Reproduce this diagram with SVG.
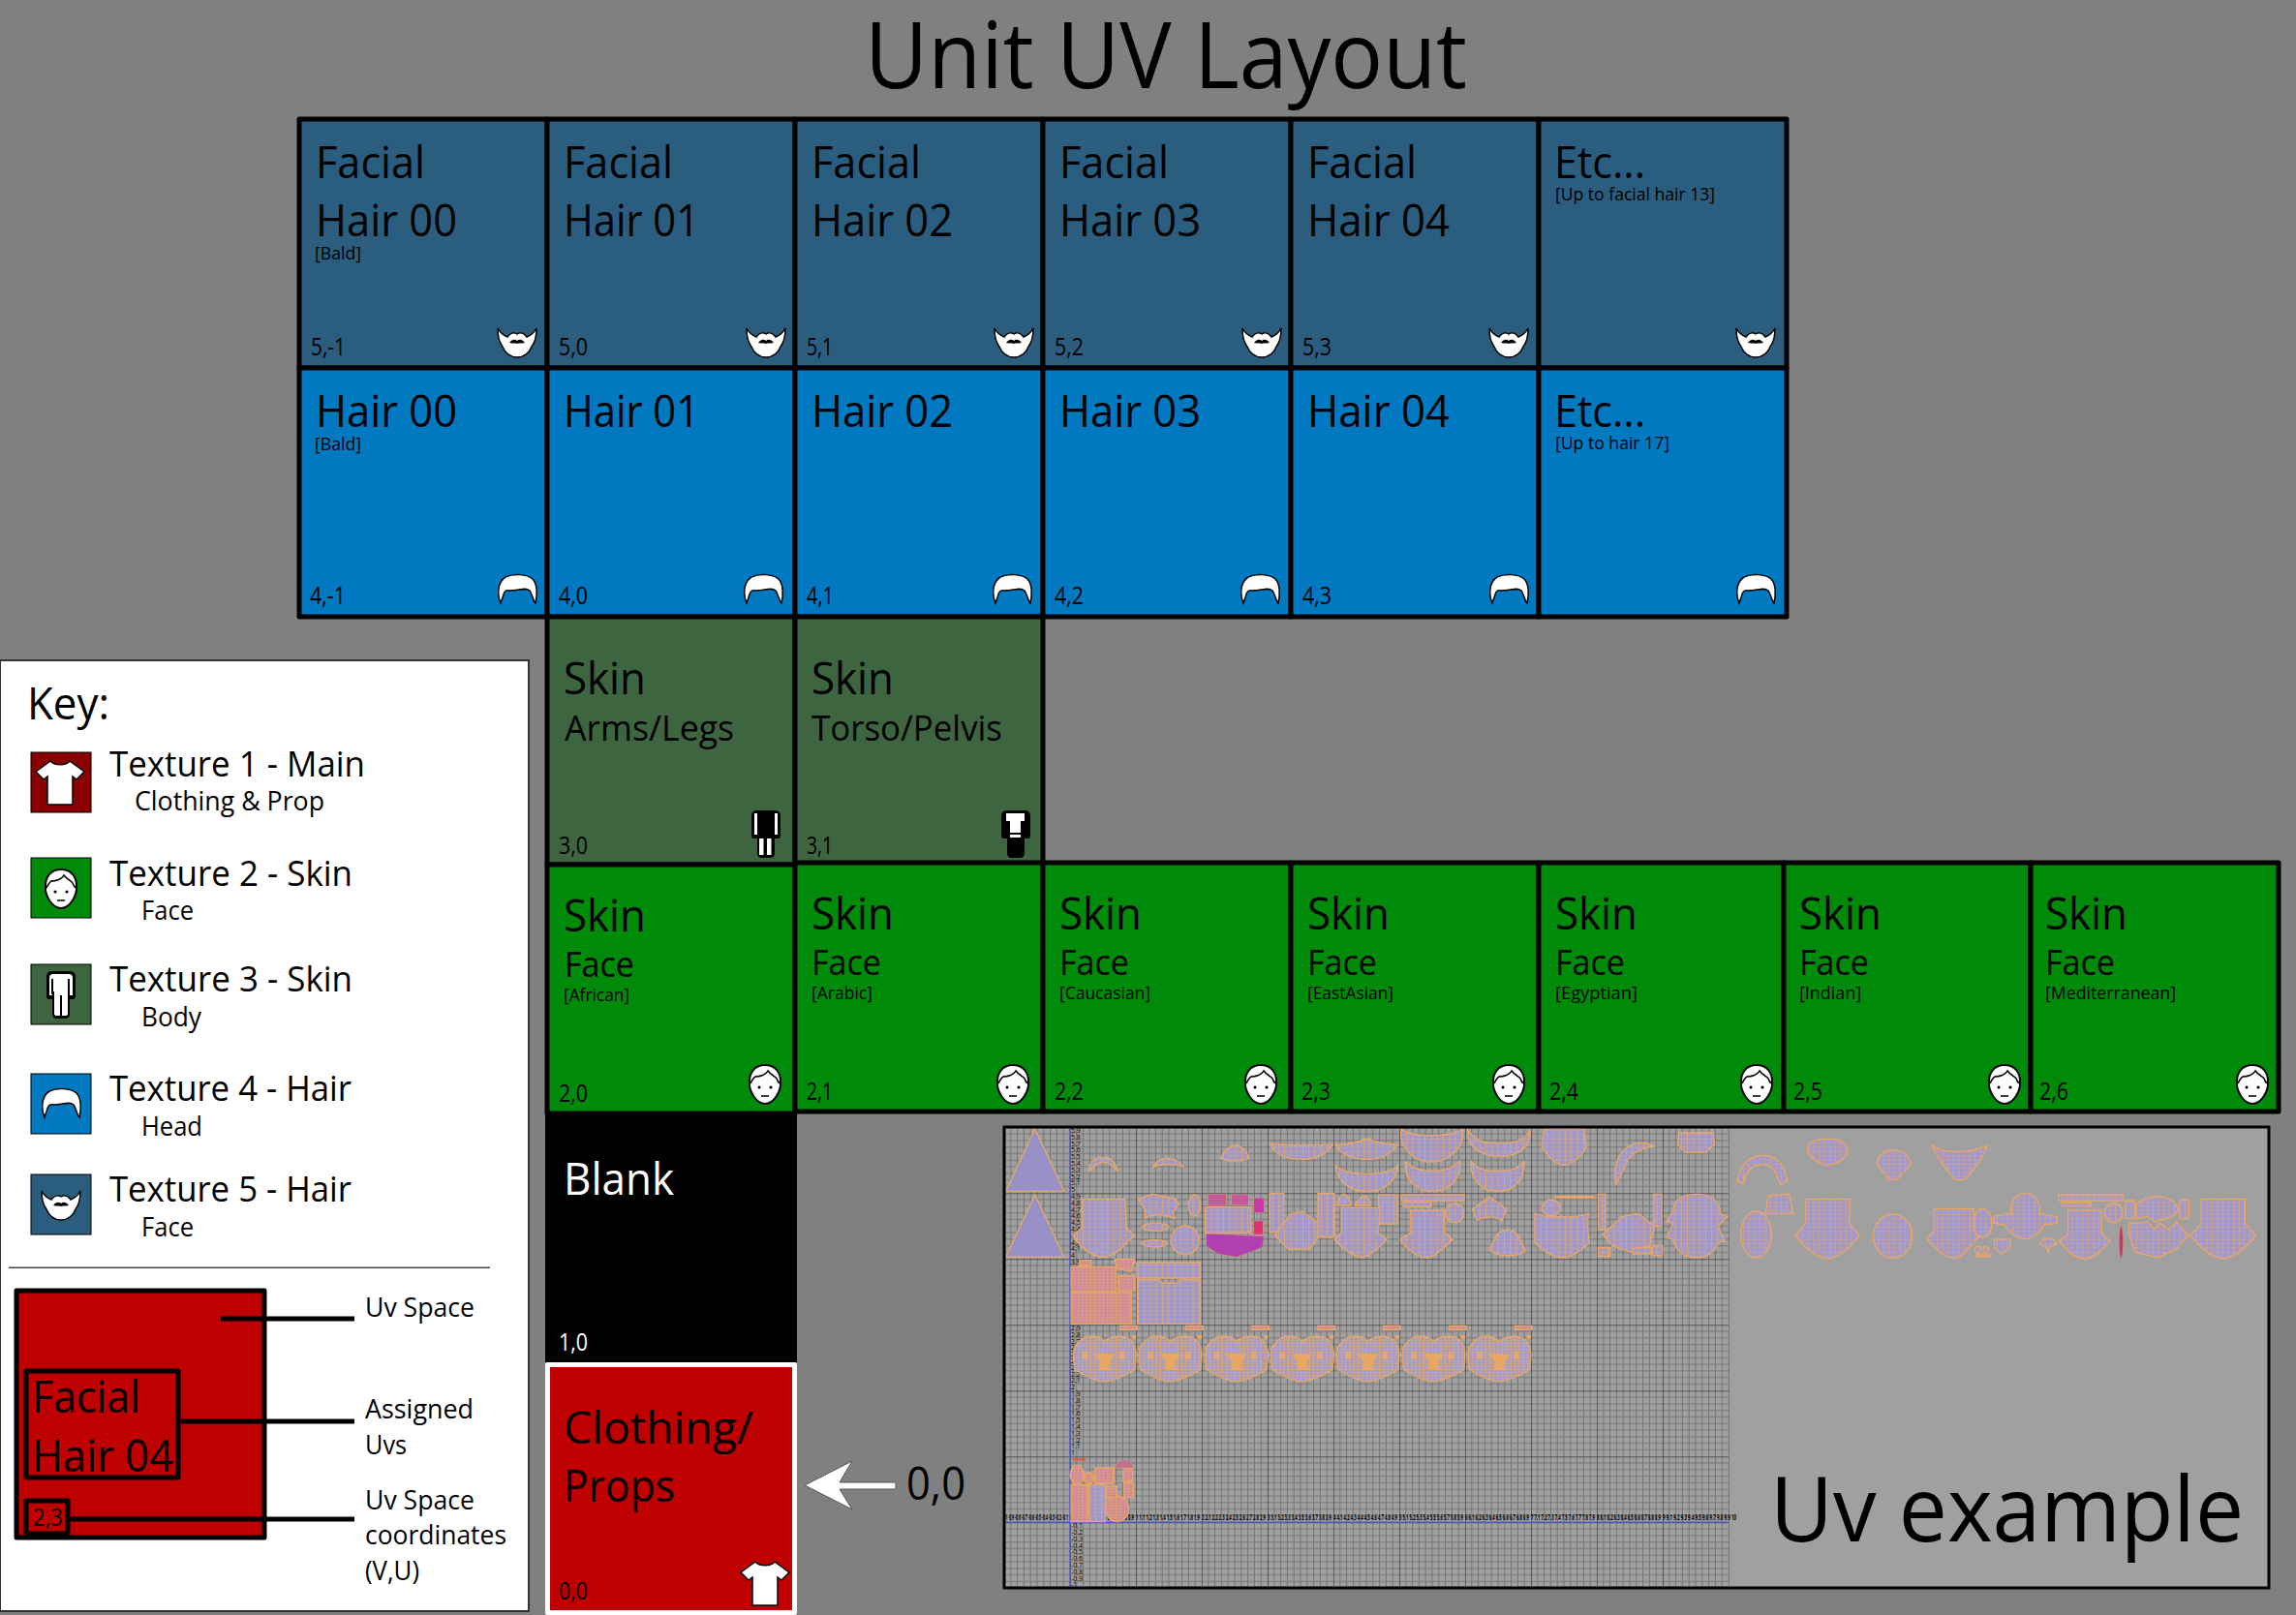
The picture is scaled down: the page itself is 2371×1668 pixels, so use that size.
<svg xmlns="http://www.w3.org/2000/svg" width="2371" height="1668" viewBox="0 0 2371 1668">
<style>
text{font-family:"Open Sans","Liberation Sans",sans-serif;fill:#000}
.c{stroke:#000;stroke-width:5;stroke-linejoin:round}
.fh{fill:#2b5d7e}.hr{fill:#0079c1}.sb{fill:#3d6540}.sf{fill:#008a0a}.rd{fill:#bf0000}
.ti{font-size:46px}.su{font-size:36px}.tg{font-size:18px}.co{font-size:25px}
.k1{font-size:37px}.k2{font-size:28px}.l{font-size:28px}
.ax{font-size:8px;font-weight:700}
.ib{stroke:#000;stroke-width:1.5}
.w{fill:url(#wire);stroke:#e8a765;stroke-width:1.4;vector-effect:non-scaling-stroke}
.f{fill:url(#wiref);stroke:#e8a765;stroke-width:1.4;vector-effect:non-scaling-stroke}
.d{fill:url(#wired);stroke:#e8a765;stroke-width:1.4;vector-effect:non-scaling-stroke}
.p{fill:#9a90c8;stroke:#e8a765;stroke-width:1.4;vector-effect:non-scaling-stroke}
.o{fill:#e8a765}
</style>
<defs>
<pattern id="grid" patternUnits="userSpaceOnUse" x="1105" y="1572.3" width="68" height="68">
<rect width="68" height="68" fill="#a0a0a0"/>
<path d="M6.8 0V68M13.6 0V68M20.4 0V68M27.2 0V68M34 0V68M40.8 0V68M47.6 0V68M54.4 0V68M61.2 0V68M0 6.8H68M0 13.6H68M0 20.4H68M0 27.2H68M0 34H68M0 40.8H68M0 47.6H68M0 54.4H68M0 61.2H68" stroke="#757575" stroke-width="1" fill="none"/>
<path d="M0 0V68M0 0H68" stroke="#3d3d3d" stroke-width="1.4" fill="none"/>
</pattern>
<pattern id="wire" patternUnits="userSpaceOnUse" width="13" height="13">
<rect width="13" height="13" fill="#9f98cc"/><path d="M0 0H13M0 0V13" stroke="#dfa878" stroke-width="3" fill="none"/>
</pattern>
<pattern id="wiref" patternUnits="userSpaceOnUse" width="9" height="9">
<rect width="9" height="9" fill="#a39bc8"/><path d="M0 0H9M0 0V9" stroke="#e2a870" stroke-width="3" fill="none"/>
</pattern>
<pattern id="wired" patternUnits="userSpaceOnUse" width="9" height="9">
<rect width="9" height="9" fill="#cf8a9a"/><path d="M0 0H9M0 0V9" stroke="#e3a26a" stroke-width="3" fill="none"/>
</pattern>
<g id="beard"><path class="ib" fill="#fff" d="M0 0C2 4 5 7 10 9C13 5 17 4 20 6C23 4 27 5 30 9C35 7 38 4 40 0C40 8 39 14 35 19C33 25 27 30 20 30C13 30 7 25 5 19C1 14 0 8 0 0Z"/><path d="M12 15C15 11 18 11 20 13C22 11 25 11 28 15C24 16 22 15 20 16C18 15 16 16 12 15Z"/></g>
<path id="hairi" class="ib" fill="#fff" d="M3 30C-1 20 0 8 8 3C16-1 30 0 36 5C41 10 41 22 39 30C36 27 36 21 33 17C28 13 22 17 12 17C7 16 6 20 5 24Z"/>
<g id="face"><path fill="#fff" stroke="#000" stroke-width="2" d="M17 1C28 1 33 9 33 18C34 28 26 41 17 41C8 41 0 28 1 18C1 9 6 1 17 1Z"/><path d="M2 20C4 16 5 14 7 13C12 13 18 11 20 7C23 11 28 13 29 15C30 17 30 18 32 20M13 33H21" fill="none" stroke="#000" stroke-width="1.6"/><circle cx="11" cy="24" r="1.6"/><circle cx="23" cy="24" r="1.6"/></g>
<path id="shirt" class="ib" fill="#fff" d="M15 0C19 5 31 5 35 0L50 11L42 19L38 16V45H12V16L8 19L0 11Z"/>
<path id="bodyo" d="M0 6Q0 0 6 0H24Q30 0 30 6V26Q30 29 27 29H24V44Q24 49 19 49H11Q6 49 6 44V29H3Q0 29 0 26Z"/>
</defs>
<rect width="2371" height="1668" fill="#808080"/>
<text id="title" x="893" y="91" font-size="95" textLength="622" lengthAdjust="spacingAndGlyphs">Unit UV Layout</text>

<g id="key">
<rect x="0" y="682" width="546" height="982" fill="#fff" stroke="#333" stroke-width="2"/>
<text x="28" y="743" font-size="46" textLength="85" lengthAdjust="spacingAndGlyphs">Key:</text>
<g id="key-t1"><rect x="32" y="777" width="62" height="62" fill="#8a0000" stroke="#000"/><use href="#shirt" x="37" y="786"/><text class="k1" x="113" y="802" textLength="264" lengthAdjust="spacingAndGlyphs">Texture 1 - Main</text><text class="k2" x="139" y="837" textLength="196" lengthAdjust="spacingAndGlyphs">Clothing &amp; Prop</text></g>
<g id="key-t2"><rect x="32" y="886" width="62" height="62" class="sf" stroke="#000"/><use href="#face" x="46" y="897"/><text class="k1" x="113" y="915" textLength="251" lengthAdjust="spacingAndGlyphs">Texture 2 - Skin</text><text class="k2" x="146" y="950" textLength="54" lengthAdjust="spacingAndGlyphs">Face</text></g>
<g id="key-t3"><rect x="32" y="996" width="62" height="62" class="sb" stroke="#000"/><use href="#bodyo" x="48" y="1003"/><path transform="translate(48 1003)" fill="#fff" d="M3 7Q3 3 7 3H23Q27 3 27 7V25H24V21H22V44Q22 46 19 46H11Q8 46 8 44V21H6V25H3Z"/><path d="M54 1011V1027M71 1011V1027M63 1028V1049" stroke="#000" stroke-width="2"/><text class="k1" x="113" y="1024" textLength="251" lengthAdjust="spacingAndGlyphs">Texture 3 - Skin</text><text class="k2" x="146" y="1060" textLength="62" lengthAdjust="spacingAndGlyphs">Body</text></g>
<g id="key-t4"><rect x="32" y="1109" width="62" height="62" class="hr" stroke="#000"/><use href="#hairi" x="43" y="1124"/><text class="k1" x="113" y="1137" textLength="250" lengthAdjust="spacingAndGlyphs">Texture 4 - Hair</text><text class="k2" x="146" y="1173" textLength="63" lengthAdjust="spacingAndGlyphs">Head</text></g>
<g id="key-t5"><rect x="32" y="1213" width="62" height="62" class="fh" stroke="#000"/><use href="#beard" x="43" y="1230"/><text class="k1" x="113" y="1241" textLength="250" lengthAdjust="spacingAndGlyphs">Texture 5 - Hair</text><text class="k2" x="146" y="1277" textLength="54" lengthAdjust="spacingAndGlyphs">Face</text></g>
<rect x="9" y="1308.5" width="497" height="1.5" fill="#444"/>
<g id="legend-space"><rect x="17" y="1333" width="256" height="255" class="rd c"/><text class="l" x="377" y="1360" textLength="113" lengthAdjust="spacingAndGlyphs">Uv Space</text></g>
<g id="legend-uvs"><rect x="27" y="1416" width="157" height="110" class="rd c"/><text class="ti" x="33" y="1459" textLength="112" lengthAdjust="spacingAndGlyphs">Facial</text><text class="ti" x="33" y="1520" textLength="146" lengthAdjust="spacingAndGlyphs">Hair 04</text><text class="l" x="377" y="1465" textLength="112" lengthAdjust="spacingAndGlyphs">Assigned</text><text class="l" x="377" y="1502" textLength="43" lengthAdjust="spacingAndGlyphs">Uvs</text></g>
<g id="legend-coord"><rect x="27" y="1550" width="43" height="34" class="rd c"/><text class="co" x="34" y="1576" textLength="31" lengthAdjust="spacingAndGlyphs">2,3</text><text class="l" x="377" y="1559" textLength="113" lengthAdjust="spacingAndGlyphs">Uv Space</text><text class="l" x="377" y="1595" textLength="146" lengthAdjust="spacingAndGlyphs">coordinates</text><text class="l" x="377" y="1632" textLength="56" lengthAdjust="spacingAndGlyphs">(V,U)</text></g>
</g>

<g id="cell-5-m1"><rect x="309" y="123" width="256" height="257" class="fh c"/><text class="ti" x="326" y="184" textLength="113" lengthAdjust="spacingAndGlyphs">Facial</text><text class="ti" x="326" y="244" textLength="146" lengthAdjust="spacingAndGlyphs">Hair 00</text><text class="tg" x="325" y="268" textLength="48" lengthAdjust="spacingAndGlyphs">[Bald]</text><text class="co" x="321" y="367" textLength="36" lengthAdjust="spacingAndGlyphs">5,-1</text><use href="#beard" x="514" y="339"/></g>
<g id="cell-5-0"><rect x="565" y="123" width="256" height="257" class="fh c"/><text class="ti" x="582" y="184" textLength="113" lengthAdjust="spacingAndGlyphs">Facial</text><text class="ti" x="582" y="244" textLength="140" lengthAdjust="spacingAndGlyphs">Hair 01</text><text class="co" x="577" y="367" textLength="30" lengthAdjust="spacingAndGlyphs">5,0</text><use href="#beard" x="771" y="339"/></g>
<g id="cell-5-1"><rect x="821" y="123" width="256" height="257" class="fh c"/><text class="ti" x="838" y="184" textLength="113" lengthAdjust="spacingAndGlyphs">Facial</text><text class="ti" x="838" y="244" textLength="146" lengthAdjust="spacingAndGlyphs">Hair 02</text><text class="co" x="833" y="367" textLength="27" lengthAdjust="spacingAndGlyphs">5,1</text><use href="#beard" x="1027" y="339"/></g>
<g id="cell-5-2"><rect x="1077" y="123" width="256" height="257" class="fh c"/><text class="ti" x="1094" y="184" textLength="113" lengthAdjust="spacingAndGlyphs">Facial</text><text class="ti" x="1094" y="244" textLength="146" lengthAdjust="spacingAndGlyphs">Hair 03</text><text class="co" x="1089" y="367" textLength="30" lengthAdjust="spacingAndGlyphs">5,2</text><use href="#beard" x="1283" y="339"/></g>
<g id="cell-5-3"><rect x="1333" y="123" width="256" height="257" class="fh c"/><text class="ti" x="1350" y="184" textLength="113" lengthAdjust="spacingAndGlyphs">Facial</text><text class="ti" x="1350" y="244" textLength="147" lengthAdjust="spacingAndGlyphs">Hair 04</text><text class="co" x="1345" y="367" textLength="30" lengthAdjust="spacingAndGlyphs">5,3</text><use href="#beard" x="1538" y="339"/></g>
<g id="cell-5-etc"><rect x="1589" y="123" width="256" height="257" class="fh c"/><text class="ti" x="1605" y="184" textLength="94" lengthAdjust="spacingAndGlyphs">Etc...</text><text class="tg" x="1606" y="207" textLength="165" lengthAdjust="spacingAndGlyphs">[Up to facial hair 13]</text><use href="#beard" x="1793" y="339"/></g>

<g id="cell-4-m1"><rect x="309" y="380" width="256" height="257" class="hr c"/><text class="ti" x="326" y="441" textLength="146" lengthAdjust="spacingAndGlyphs">Hair 00</text><text class="tg" x="325" y="465" textLength="48" lengthAdjust="spacingAndGlyphs">[Bald]</text><text class="co" x="320" y="624" textLength="37" lengthAdjust="spacingAndGlyphs">4,-1</text><use href="#hairi" x="514" y="593"/></g>
<g id="cell-4-0"><rect x="565" y="380" width="256" height="257" class="hr c"/><text class="ti" x="582" y="441" textLength="140" lengthAdjust="spacingAndGlyphs">Hair 01</text><text class="co" x="577" y="624" textLength="30" lengthAdjust="spacingAndGlyphs">4,0</text><use href="#hairi" x="768" y="593"/></g>
<g id="cell-4-1"><rect x="821" y="380" width="256" height="257" class="hr c"/><text class="ti" x="838" y="441" textLength="146" lengthAdjust="spacingAndGlyphs">Hair 02</text><text class="co" x="833" y="624" textLength="28" lengthAdjust="spacingAndGlyphs">4,1</text><use href="#hairi" x="1025" y="593"/></g>
<g id="cell-4-2"><rect x="1077" y="380" width="256" height="257" class="hr c"/><text class="ti" x="1094" y="441" textLength="146" lengthAdjust="spacingAndGlyphs">Hair 03</text><text class="co" x="1089" y="624" textLength="30" lengthAdjust="spacingAndGlyphs">4,2</text><use href="#hairi" x="1281" y="593"/></g>
<g id="cell-4-3"><rect x="1333" y="380" width="256" height="257" class="hr c"/><text class="ti" x="1350" y="441" textLength="147" lengthAdjust="spacingAndGlyphs">Hair 04</text><text class="co" x="1345" y="624" textLength="30" lengthAdjust="spacingAndGlyphs">4,3</text><use href="#hairi" x="1538" y="593"/></g>
<g id="cell-4-etc"><rect x="1589" y="380" width="256" height="257" class="hr c"/><text class="ti" x="1605" y="441" textLength="94" lengthAdjust="spacingAndGlyphs">Etc...</text><text class="tg" x="1606" y="464" textLength="118" lengthAdjust="spacingAndGlyphs">[Up to hair 17]</text><use href="#hairi" x="1793" y="593"/></g>

<g id="cell-3-0"><rect x="565" y="637" width="256" height="256" class="sb c"/><text class="ti" x="582" y="717" textLength="85" lengthAdjust="spacingAndGlyphs">Skin</text><text class="su" x="583" y="765" textLength="175" lengthAdjust="spacingAndGlyphs">Arms/Legs</text><text class="co" x="577" y="882" textLength="30" lengthAdjust="spacingAndGlyphs">3,0</text><use href="#bodyo" x="776" y="837"/><path d="M779 840h3v22h-3zM800 840h3v22h-3zM784 866h4.500v17h-4.500zM792 866h4.500v17h-4.500z" fill="#fff"/></g>
<g id="cell-3-1"><rect x="821" y="637" width="256" height="256" class="sb c"/><text class="ti" x="838" y="717" textLength="85" lengthAdjust="spacingAndGlyphs">Skin</text><text class="su" x="838" y="765" textLength="197" lengthAdjust="spacingAndGlyphs">Torso/Pelvis</text><text class="co" x="833" y="882" textLength="27" lengthAdjust="spacingAndGlyphs">3,1</text><use href="#bodyo" x="1034" y="837"/><path d="M1039 840H1058V848H1054V860H1043V848H1039ZM1043 862H1054V865H1043Z" fill="#fff"/></g>

<g id="cell-2-0"><rect x="565" y="893" width="256" height="257" class="sf c"/><text class="ti" x="582" y="962" textLength="85" lengthAdjust="spacingAndGlyphs">Skin</text><text class="su" x="583" y="1009" textLength="72" lengthAdjust="spacingAndGlyphs">Face</text><text class="tg" x="582" y="1034" textLength="68" lengthAdjust="spacingAndGlyphs">[African]</text><text class="co" x="577" y="1138" textLength="30" lengthAdjust="spacingAndGlyphs">2,0</text><use href="#face" x="773" y="1099"/></g>
<g id="cell-2-1"><rect x="821" y="891" width="256" height="257" class="sf c"/><text class="ti" x="838" y="960" textLength="85" lengthAdjust="spacingAndGlyphs">Skin</text><text class="su" x="838" y="1007" textLength="72" lengthAdjust="spacingAndGlyphs">Face</text><text class="tg" x="838" y="1032" textLength="63" lengthAdjust="spacingAndGlyphs">[Arabic]</text><text class="co" x="833" y="1136" textLength="27" lengthAdjust="spacingAndGlyphs">2,1</text><use href="#face" x="1029" y="1099"/></g>
<g id="cell-2-2"><rect x="1077" y="891" width="256" height="257" class="sf c"/><text class="ti" x="1094" y="960" textLength="85" lengthAdjust="spacingAndGlyphs">Skin</text><text class="su" x="1094" y="1007" textLength="72" lengthAdjust="spacingAndGlyphs">Face</text><text class="tg" x="1094" y="1032" textLength="94" lengthAdjust="spacingAndGlyphs">[Caucasian]</text><text class="co" x="1089" y="1136" textLength="30" lengthAdjust="spacingAndGlyphs">2,2</text><use href="#face" x="1285" y="1099"/></g>
<g id="cell-2-3"><rect x="1333" y="891" width="256" height="257" class="sf c"/><text class="ti" x="1350" y="960" textLength="85" lengthAdjust="spacingAndGlyphs">Skin</text><text class="su" x="1350" y="1007" textLength="72" lengthAdjust="spacingAndGlyphs">Face</text><text class="tg" x="1350" y="1032" textLength="89" lengthAdjust="spacingAndGlyphs">[EastAsian]</text><text class="co" x="1344" y="1136" textLength="30" lengthAdjust="spacingAndGlyphs">2,3</text><use href="#face" x="1541" y="1099"/></g>
<g id="cell-2-4"><rect x="1589" y="891" width="253" height="257" class="sf c"/><text class="ti" x="1606" y="960" textLength="85" lengthAdjust="spacingAndGlyphs">Skin</text><text class="su" x="1606" y="1007" textLength="72" lengthAdjust="spacingAndGlyphs">Face</text><text class="tg" x="1606" y="1032" textLength="85" lengthAdjust="spacingAndGlyphs">[Egyptian]</text><text class="co" x="1600" y="1136" textLength="30" lengthAdjust="spacingAndGlyphs">2,4</text><use href="#face" x="1797" y="1099"/></g>
<g id="cell-2-5"><rect x="1842" y="891" width="255" height="257" class="sf c"/><text class="ti" x="1858" y="960" textLength="85" lengthAdjust="spacingAndGlyphs">Skin</text><text class="su" x="1858" y="1007" textLength="72" lengthAdjust="spacingAndGlyphs">Face</text><text class="tg" x="1858" y="1032" textLength="64" lengthAdjust="spacingAndGlyphs">[Indian]</text><text class="co" x="1852" y="1136" textLength="30" lengthAdjust="spacingAndGlyphs">2,5</text><use href="#face" x="2053" y="1099"/></g>
<g id="cell-2-6"><rect x="2097" y="891" width="256" height="257" class="sf c"/><text class="ti" x="2112" y="960" textLength="85" lengthAdjust="spacingAndGlyphs">Skin</text><text class="su" x="2112" y="1007" textLength="72" lengthAdjust="spacingAndGlyphs">Face</text><text class="tg" x="2112" y="1032" textLength="135" lengthAdjust="spacingAndGlyphs">[Mediterranean]</text><text class="co" x="2106" y="1136" textLength="30" lengthAdjust="spacingAndGlyphs">2,6</text><use href="#face" x="2309" y="1099"/></g>

<g id="cell-1-0"><rect x="563" y="1148" width="260" height="259" fill="#000"/><text style="fill:#fff" font-size="46" x="582" y="1234" textLength="114" lengthAdjust="spacingAndGlyphs">Blank</text><text style="fill:#fff" class="co" x="577" y="1395" textLength="30" lengthAdjust="spacingAndGlyphs">1,0</text></g>
<g id="cell-0-0"><rect x="565.500" y="1409.500" width="255" height="256" class="rd" stroke="#fff" stroke-width="5" stroke-linejoin="round"/><text class="ti" x="582" y="1491" textLength="196" lengthAdjust="spacingAndGlyphs">Clothing/</text><text class="ti" x="582" y="1551" textLength="115" lengthAdjust="spacingAndGlyphs">Props</text><text class="co" x="577" y="1652" textLength="30" lengthAdjust="spacingAndGlyphs">0,0</text><use href="#shirt" x="765" y="1613"/><text font-size="48" x="936" y="1549" textLength="61" lengthAdjust="spacingAndGlyphs">0,0</text></g>

<g id="uv-example">
<rect x="1037" y="1164" width="1306" height="476" fill="#a0a0a0"/>
<rect x="1037" y="1164" width="748.600" height="476" fill="url(#grid)"/>
<path d="M1105 1164V1640M1037 1572.300H1785" stroke="#4f58c8" stroke-width="1.500" fill="none"/>
<g id="uv-axis-x">
<text class="ax" x="1037" y="1570" textLength="66" lengthAdjust="spacingAndGlyphs">-1 -0.9 -0.8 -0.7 -0.6 -0.5 -0.4 -0.3 -0.2 -0.1</text>
<text class="ax" x="1105" y="1570" textLength="66" lengthAdjust="spacingAndGlyphs">0 0.1 0.2 0.3 0.4 0.5 0.6 0.7 0.8 0.9</text>
<text class="ax" x="1173" y="1570" textLength="66" lengthAdjust="spacingAndGlyphs">1 1.1 1.2 1.3 1.4 1.5 1.6 1.7 1.8 1.9</text>
<text class="ax" x="1241" y="1570" textLength="66" lengthAdjust="spacingAndGlyphs">2 2.1 2.2 2.3 2.4 2.5 2.6 2.7 2.8 2.9</text>
<text class="ax" x="1309" y="1570" textLength="66" lengthAdjust="spacingAndGlyphs">3 3.1 3.2 3.3 3.4 3.5 3.6 3.7 3.8 3.9</text>
<text class="ax" x="1377" y="1570" textLength="66" lengthAdjust="spacingAndGlyphs">4 4.1 4.2 4.3 4.4 4.5 4.6 4.7 4.8 4.9</text>
<text class="ax" x="1445" y="1570" textLength="66" lengthAdjust="spacingAndGlyphs">5 5.1 5.2 5.3 5.4 5.5 5.6 5.7 5.8 5.9</text>
<text class="ax" x="1513" y="1570" textLength="66" lengthAdjust="spacingAndGlyphs">6 6.1 6.2 6.3 6.4 6.5 6.6 6.7 6.8 6.9</text>
<text class="ax" x="1581" y="1570" textLength="66" lengthAdjust="spacingAndGlyphs">7 7.1 7.2 7.3 7.4 7.5 7.6 7.7 7.8 7.9</text>
<text class="ax" x="1649" y="1570" textLength="66" lengthAdjust="spacingAndGlyphs">8 8.1 8.2 8.3 8.4 8.5 8.6 8.7 8.8 8.9</text>
<text class="ax" x="1717" y="1570" textLength="76" lengthAdjust="spacingAndGlyphs">9 9.1 9.2 9.3 9.4 9.5 9.6 9.7 9.8 9.9 10</text>
</g>
<text font-size="7" y="1170"><tspan x="1106">5.9</tspan><tspan x="1106" dy="6.8">5.8</tspan><tspan x="1106" dy="6.8">5.7</tspan><tspan x="1106" dy="6.8">5.6</tspan><tspan x="1106" dy="6.8">5.5</tspan><tspan x="1106" dy="6.8">5.4</tspan><tspan x="1106" dy="6.8">5.3</tspan><tspan x="1106" dy="6.8">5.2</tspan><tspan x="1106" dy="6.8">5.1</tspan><tspan x="1106" dy="6.8">5</tspan><tspan x="1106" dy="6.8">4.9</tspan><tspan x="1106" dy="6.8">4.8</tspan><tspan x="1106" dy="6.8">4.7</tspan><tspan x="1106" dy="6.8">4.6</tspan><tspan x="1106" dy="6.8">4.5</tspan><tspan x="1106" dy="6.8">4.4</tspan><tspan x="1106" dy="6.8">4.3</tspan><tspan x="1106" dy="6.8">4.2</tspan><tspan x="1106" dy="6.8">4.1</tspan><tspan x="1106" dy="6.8">4</tspan><tspan x="1106" dy="6.8">3.9</tspan><tspan x="1106" dy="6.8">3.8</tspan><tspan x="1106" dy="6.8">3.7</tspan><tspan x="1106" dy="6.8">3.6</tspan><tspan x="1106" dy="6.8">3.5</tspan><tspan x="1106" dy="6.8">3.4</tspan><tspan x="1106" dy="6.8">3.3</tspan><tspan x="1106" dy="6.8">3.2</tspan><tspan x="1106" dy="6.8">3.1</tspan><tspan x="1106" dy="6.8">3</tspan><tspan x="1106" dy="6.8">2.9</tspan><tspan x="1106" dy="6.8">2.8</tspan><tspan x="1106" dy="6.8">2.7</tspan><tspan x="1106" dy="6.8">2.6</tspan><tspan x="1106" dy="6.8">2.5</tspan><tspan x="1106" dy="6.8">2.4</tspan><tspan x="1106" dy="6.8">2.3</tspan><tspan x="1106" dy="6.8">2.2</tspan><tspan x="1106" dy="6.8">2.1</tspan><tspan x="1106" dy="6.8">2</tspan><tspan x="1106" dy="6.8">1.9</tspan><tspan x="1106" dy="6.8">1.8</tspan><tspan x="1106" dy="6.8">1.7</tspan><tspan x="1106" dy="6.8">1.6</tspan><tspan x="1106" dy="6.8">1.5</tspan><tspan x="1106" dy="6.8">1.4</tspan><tspan x="1106" dy="6.8">1.3</tspan><tspan x="1106" dy="6.8">1.2</tspan><tspan x="1106" dy="6.8">1.1</tspan><tspan x="1106" dy="6.8">1</tspan><tspan x="1106" dy="75">-0.1</tspan><tspan x="1106" dy="6.8">-0.2</tspan><tspan x="1106" dy="6.8">-0.3</tspan><tspan x="1106" dy="6.8">-0.4</tspan><tspan x="1106" dy="6.8">-0.5</tspan><tspan x="1106" dy="6.8">-0.6</tspan><tspan x="1106" dy="6.8">-0.7</tspan><tspan x="1106" dy="6.8">-0.8</tspan><tspan x="1106" dy="6.8">-0.9</tspan><tspan x="1106" dy="6.8">-1</tspan></text>

<g transform="translate(1030 1150) scale(.4847 .33333)">
<path class="p" d="M80 47L142 241H18ZM80 252L142 445H18Z"/>
<path class="w" d="M196 178C195 150 210 130 225 140C240 128 255 160 255 178C245 160 235 150 225 152C215 150 205 165 196 178Z"/>
<path class="w" d="M332 166C340 140 370 120 397 166C380 155 350 155 332 166Z"/>
<path class="w" d="M477 140C480 115 500 97 510 97C525 105 535 125 535 140C520 150 490 150 477 140Z"/>
<path class="w" d="M580 93C620 100 680 100 714 95C705 125 680 142 648 142C615 142 590 125 580 93Z"/>
<path class="w" d="M720 97C750 95 770 90 787 78C805 90 825 95 853 97C840 125 820 142 787 142C755 142 730 125 720 97Z"/>
<path class="w" d="M720 163C745 195 830 195 853 163C850 210 825 242 787 242C750 242 725 210 720 163Z"/>
<path class="w" d="M860 50C890 75 960 75 992 48C995 105 965 150 925 150C885 150 855 105 860 50Z"/>
<path class="w" d="M870 150C885 170 900 180 925 178C950 180 970 170 985 148C990 200 965 242 925 242C890 242 865 200 870 150Z"/>
<path class="w" d="M1002 50C1020 90 1040 92 1070 92C1100 92 1125 85 1135 50C1138 105 1110 133 1070 133C1030 133 1000 105 1002 50Z"/>
<path class="w" d="M1010 148C1020 170 1040 180 1065 178C1090 180 1110 170 1122 148C1125 200 1105 242 1065 242C1030 242 1005 200 1010 148Z"/>
<path class="w" d="M1165 47L1250 47L1255 105C1245 130 1225 160 1207 160C1190 160 1170 130 1160 105Z"/>
<path class="w" d="M1318 220C1310 170 1320 110 1360 92C1380 90 1395 98 1400 102C1375 105 1355 120 1345 140C1335 170 1325 200 1318 220Z"/>
<path class="w" d="M1452 60L1525 60L1528 95L1510 120L1465 120L1450 95Z"/>
<path class="w" d="M180 265L272 265L275 355L292 378C270 410 250 445 225 445C200 445 175 410 160 378L180 355Z"/>
<path class="w" d="M300 265L330 250L380 265L385 285L375 305L378 325C350 310 330 310 315 325L315 300Z"/>
<ellipse class="w" cx="337" cy="352" rx="28" ry="12"/><ellipse class="w" cx="335" cy="403" rx="27" ry="11"/><ellipse class="w" cx="400" cy="393" rx="30" ry="45"/><ellipse class="w" cx="420" cy="285" rx="13" ry="33"/>
<rect x="448" y="250" width="40" height="35" fill="#c85a9c" stroke="#e8a765"/><rect x="498" y="252" width="37" height="32" fill="#c85a9c" stroke="#e8a765"/><rect x="546" y="262" width="22" height="45" fill="#c838a8" stroke="#e8a765"/><rect x="546" y="333" width="20" height="42" fill="#e0307a" stroke="#e8a765"/>
<rect class="w" x="443" y="290" width="97" height="80"/><path d="M445 372L568 380L565 415L510 445L470 435L445 410Z" fill="#b040b0" stroke="#e8a765"/>
<rect class="w" x="580" y="248" width="30" height="120"/><path class="w" d="M590 378L625 310L650 305L690 345L700 355L665 420L620 420Z"/><rect class="w" x="683" y="248" width="35" height="135"/>
<path class="w" d="M723 285C725 260 735 248 740 250C750 260 755 275 752 285Z"/><path class="w" d="M762 285C770 260 780 252 785 255C790 262 795 275 795 285Z"/><rect class="w" x="812" y="252" width="40" height="90"/>
<path class="w" d="M733 292L815 292L812 370L830 390C810 420 790 445 778 445C760 445 735 420 718 390L733 370Z"/>
<rect class="w" x="860" y="252" width="135" height="18"/><rect class="w" x="865" y="275" width="60" height="15"/><ellipse class="w" cx="974" cy="308" rx="20" ry="30"/>
<path class="w" d="M880 300L953 300L953 370L970 390C950 420 930 447 915 447C895 447 870 420 858 390L880 370Z"/>
<path class="w" d="M1012 297L1048 258L1085 297L1075 332C1060 318 1040 318 1022 330Z"/>
<path class="w" d="M1048 420L1065 375C1075 355 1100 355 1110 380L1125 425C1115 445 1060 447 1048 420Z"/>
<rect class="o" x="1187" y="255" width="85" height="8"/><ellipse class="w" cx="1180" cy="292" rx="20" ry="25"/>
<path class="w" d="M1145 310L1170 320L1230 320L1260 312L1255 335L1262 400C1240 430 1220 447 1205 447C1185 447 1160 425 1145 400Z"/>
<rect class="w" x="1280" y="250" width="15" height="110"/><rect class="w" x="1398" y="250" width="17" height="100"/>
<path class="w" d="M1290 375L1330 320L1365 310L1400 350L1390 410L1350 430L1310 410Z"/><rect class="w" x="1280" y="415" width="25" height="28"/><rect class="w" x="1395" y="410" width="22" height="30"/><rect class="w" x="1355" y="415" width="40" height="20"/>
<path class="w" d="M1440 300C1440 260 1470 250 1490 250C1515 250 1540 265 1540 310L1555 320L1535 350L1550 395L1535 400C1530 430 1510 447 1490 447C1465 447 1445 430 1440 390L1425 385L1440 340L1425 335Z"/>
<rect class="d" x="157" y="475" width="95" height="78"/><rect class="d" x="157" y="555" width="128" height="97"/><rect class="d" x="175" y="455" width="24" height="16"/><path class="d" d="M250 452L292 452L285 490L255 480Z"/><rect class="d" x="258" y="503" width="34" height="47"/>
<rect class="w" x="297" y="462" width="135" height="48"/><path class="w" d="M298 515L345 515L350 525L385 525L390 515L432 515L432 652L298 652Z"/>
<g id="uvface"><path class="f" d="M162 760C158 710 185 688 205 690C215 692 225 700 228 708C232 700 245 690 260 690C285 690 298 720 295 760L292 795C265 815 245 830 228 830C210 830 190 815 165 795Z"/><path class="o" d="M205 745L250 745L240 770L240 790L245 795L215 795L220 770Z"/><ellipse class="o" cx="187" cy="750" rx="6" ry="11"/><ellipse class="o" cx="265" cy="750" rx="6" ry="11"/><rect class="d" x="262" y="658" width="35" height="12"/><ellipse class="o" cx="291" cy="693" rx="5" ry="7"/></g>
<use href="#uvface" x="140"/><use href="#uvface" x="281"/><use href="#uvface" x="421"/><use href="#uvface" x="561"/><use href="#uvface" x="701"/><use href="#uvface" x="841"/>
<rect class="d" x="157" y="1150" width="35" height="115"/><rect class="w" x="195" y="1150" width="35" height="115"/><ellipse class="d" cx="255" cy="1225" rx="25" ry="40"/><path d="M250 1098C250 1075 285 1060 290 1098Z" fill="#c07090" stroke="#e8a765"/><ellipse class="d" cx="170" cy="1120" rx="15" ry="30"/><ellipse class="d" cx="195" cy="1130" rx="10" ry="18"/><rect class="d" x="208" y="1098" width="40" height="48"/><rect class="d" x="232" y="1155" width="22" height="35"/><rect class="d" x="270" y="1145" width="20" height="45"/><rect class="d" x="268" y="1100" width="20" height="40"/><rect x="160" y="1068" width="28" height="8" fill="#d86050"/>
</g>

<g transform="translate(1700 1150) scale(.4279 .33333)">
<path class="w" d="M220 210C225 170 240 130 285 130C320 130 335 170 340 210L325 220L315 195C310 170 295 158 280 158C260 158 245 175 240 195L235 218Z"/>
<path class="w" d="M390 100C395 85 420 78 440 80C470 78 485 90 487 125C470 150 450 160 435 160C415 155 400 140 390 120Z"/>
<path class="w" d="M556 155C560 125 580 113 595 113C620 113 638 135 638 160L605 205L585 205Z"/>
<path class="w" d="M690 98C715 125 780 125 822 100C815 140 790 170 770 205L745 205C725 175 700 135 690 98Z"/>
<ellipse class="w" cx="265" cy="375" rx="37" ry="72"/><path class="w" d="M288 310L295 255L345 250L355 310Z"/>
<path class="w" d="M385 265L492 265L490 340L515 378C490 420 460 450 438 450C415 450 385 420 360 378L385 340Z"/>
<ellipse class="w" cx="595" cy="380" rx="47" ry="68"/>
<path class="w" d="M695 295L790 295L795 370L800 385C780 420 760 448 742 448C720 448 700 420 677 390L695 365Z"/>
<ellipse class="w" cx="812" cy="340" rx="22" ry="45"/><ellipse class="w" cx="800" cy="422" rx="7" ry="10"/><ellipse class="w" cx="820" cy="422" rx="7" ry="10"/><rect class="w" x="798" y="438" width="33" height="6"/><path class="w" d="M840 390L878 390L878 415L858 435L840 415Z"/>
<path class="w" d="M880 300C880 260 900 248 915 248C935 248 950 265 950 310L990 320L992 340L960 345C955 370 930 388 915 388C895 388 875 370 865 345L838 340L840 318L880 310Z"/>
<path class="w" d="M950 405C955 380 985 380 990 405L975 412L970 430L965 412Z"/>
<rect class="w" x="995" y="252" width="155" height="18"/><rect class="w" x="1003" y="276" width="70" height="11"/><ellipse class="w" cx="1128" cy="308" rx="22" ry="30"/>
<path class="w" d="M1018 300L1098 300L1100 375L1120 395C1100 425 1080 450 1058 450C1035 450 1015 425 995 395L1018 375Z"/>
<ellipse cx="1146" cy="398" rx="5" ry="50" fill="#b84070" stroke="#e8a765"/>
<rect class="w" x="1157" y="270" width="22" height="55"/><path class="w" d="M1180 285C1200 250 1270 240 1285 300L1270 320L1230 335L1210 320L1180 325Z"/><rect class="w" x="1288" y="268" width="22" height="58"/>
<path class="w" d="M1165 375L1165 340L1190 340L1210 335L1225 360L1240 340L1262 360L1280 335L1295 360L1310 375L1280 420L1235 447L1180 430Z"/>
<path class="w" d="M1340 265L1445 265L1445 340L1470 378C1445 420 1415 450 1392 450C1370 450 1340 420 1313 378L1340 340Z"/>
</g>
<rect x="1037" y="1164" width="1306" height="476" fill="none" stroke="#000" stroke-width="3"/>
<text font-size="94" x="1828" y="1592" textLength="489" lengthAdjust="spacingAndGlyphs">Uv example</text>
</g>

<g id="connectors">
<path d="M228 1362H366M187 1468H366M72 1569H366" stroke="#000" stroke-width="5" fill="none"/>
<path d="M831 1534L880 1509L867 1531H925V1538H867L880 1559Z" fill="#fff" stroke="#555" stroke-width="1"/>
</g>
</svg>
